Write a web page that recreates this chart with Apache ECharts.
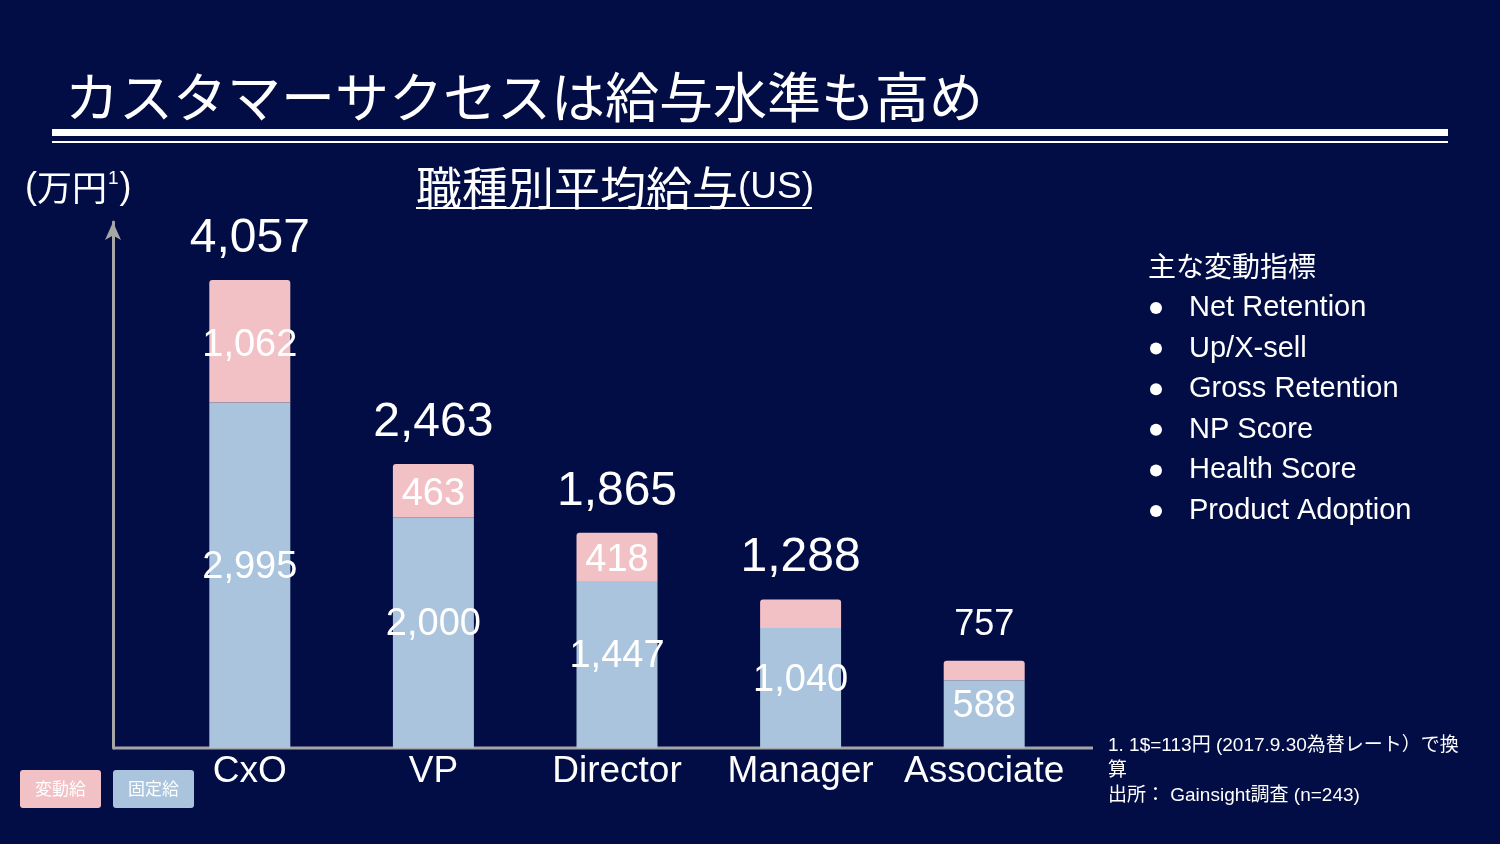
<!DOCTYPE html>
<html><head><meta charset="utf-8">
<script src="https://cdn.jsdelivr.net/npm/echarts@6/dist/echarts.min.js"></script>
<style>html,body{margin:0;padding:0;background:#020d45;}#c{width:1500px;height:844px;}</style>
</head><body><div id="c"></div><script>
const categories = ['CxO', 'VP', 'Director', 'Manager', 'Associate'];
const fixedPay = [2995, 2000, 1447, 1040, 588];
const variablePay = [1062, 463, 418, 248, 169];
const totals = [4057, 2463, 1865, 1288, 757];
const variableLabelShown = [true, true, true, false, false];
const seriesNames = ['変動給', '固定給'];
const metricsTitle = '主な変動指標';
const metrics = ['Net Retention', 'Up/X-sell', 'Gross Retention', 'NP Score', 'Health Score', 'Product Adoption'];
const footnotes = ['1. 1$=113円 (2017.9.30為替レート）で換', '算', '出所： Gainsight調査 (n=243)'];

const FONT = "'Liberation Sans', Arial, 'Noto Sans CJK JP', sans-serif";
const CJK = "'Noto Sans CJK JP', sans-serif";
const PINK = '#f2c1c6', BLUE = '#a9c4dc', AXIS = '#a6a6a6';
const fmt = v => v.toLocaleString('en-US');

const chart = echarts.init(document.getElementById('c'));

const graphics = [
  { type: 'text', left: 65, top: 70, style: { text: 'カスタマーサクセスは給与水準も高め', fill: '#fff', font: "54px " + CJK } },
  { type: 'rect', shape: { x: 52, y: 129, width: 1396, height: 7 }, style: { fill: '#fff' } },
  { type: 'rect', shape: { x: 52, y: 141, width: 1396, height: 2 }, style: { fill: '#fff' } },
  { type: 'text', x: 25, y: 188, style: { textVerticalAlign: 'middle', rich: { a: { fontSize: 36, fontFamily: FONT, fill: '#fff' }, c: { fontSize: 35, fontFamily: CJK, fill: '#fff' }, s: { fontSize: 19, fontFamily: FONT, fill: '#fff', padding: [0, 1, 18, 1] } }, text: '{a|(}{c|万円}{s|1}{a|)}' } },
  { type: 'text', x: 416, y: 188, style: { textVerticalAlign: 'middle', rich: { c: { fontSize: 46, fontFamily: CJK, fill: '#fff' }, l: { fontSize: 37, fontFamily: FONT, fill: '#fff' } }, text: '{c|職種別平均給与}{l|(US)}' } },
  { type: 'rect', shape: { x: 416, y: 207, width: 396, height: 2 }, style: { fill: '#fff' } },
  { type: 'line', shape: { x1: 113, y1: 748, x2: 1093, y2: 748 }, style: { stroke: AXIS, lineWidth: 3 } },
  { type: 'text', x: 1148, y: 266, style: { text: metricsTitle, fill: '#fff', font: "28px " + CJK, textVerticalAlign: 'middle' } }
];
metrics.forEach((m, i) => {
  const y = 308 + i * 40.6;
  graphics.push({ type: 'circle', shape: { cx: 1156, cy: y, r: 6 }, style: { fill: '#fff' } });
  graphics.push({ type: 'text', x: 1189, y: y, style: { text: m, fill: '#fff', font: '29px ' + FONT, textVerticalAlign: 'middle' } });
});
footnotes.forEach((t, i) => {
  graphics.push({ type: 'text', x: 1108, y: 746 + i * 25, style: { text: t, fill: '#fff', font: '19px ' + FONT, textVerticalAlign: 'middle' } });
});

chart.setOption({
  backgroundColor: '#020d45',
  animation: false,
  textStyle: { fontFamily: FONT },
  grid: { left: 158, right: 424, top: 222, bottom: 96 },
  legend: {
    left: 15, top: 770, padding: 0, itemWidth: 0, itemHeight: 0, itemGap: 7, selectedMode: false,
    data: [
      { name: seriesNames[0], icon: 'none', textStyle: { color: '#fff', fontSize: 17, fontFamily: CJK, backgroundColor: PINK, borderRadius: 3, padding: [11, 15, 10, 15] } },
      { name: seriesNames[1], icon: 'none', textStyle: { color: '#fff', fontSize: 17, fontFamily: CJK, backgroundColor: BLUE, borderRadius: 3, padding: [11, 15, 10, 15] } }
    ]
  },
  xAxis: {
    type: 'category', data: categories,
    axisLine: { show: false }, axisTick: { show: false },
    axisLabel: { color: '#fff', fontSize: 37, margin: 5, fontFamily: FONT, interval: 0, hideOverlap: false }
  },
  yAxis: {
    type: 'value', min: 0, max: 4560, offset: 45,
    axisLine: { show: true, symbol: ['none', 'arrow'], symbolSize: [12, 18], lineStyle: { color: AXIS, width: 3 } },
    axisLabel: { show: false }, axisTick: { show: false }, splitLine: { show: false }
  },
  series: [
    {
      name: seriesNames[1], type: 'bar', stack: 'pay', barWidth: 81, data: fixedPay,
      itemStyle: { color: BLUE },
      label: { show: true, position: 'inside', offset: [0, -8], color: '#fff', fontSize: 38, fontFamily: FONT, formatter: p => fmt(p.value) }
    },
    {
      name: seriesNames[0], type: 'bar', stack: 'pay', barWidth: 81,
      data: variablePay.map((v, i) => ({ value: v, label: { show: variableLabelShown[i] } })),
      itemStyle: { color: PINK, borderRadius: [3, 3, 0, 0] },
      label: { position: 'inside', offset: [0, 4], color: '#fff', fontSize: 38, fontFamily: FONT, formatter: p => fmt(p.value) }
    },
    {
      name: '合計', type: 'line', silent: true, z: 5,
      data: totals.map((v, i) => ({ value: v, label: { fontSize: i === totals.length - 1 ? 36 : 48 } })),
      symbol: 'circle', symbolSize: 1, lineStyle: { width: 0, opacity: 0 }, itemStyle: { color: 'rgba(0,0,0,0)' },
      label: { show: true, position: 'top', distance: 17, color: '#fff', fontSize: 48, fontFamily: FONT, formatter: p => fmt(p.value) }
    }
  ],
  graphic: graphics
});
</script></body></html>
